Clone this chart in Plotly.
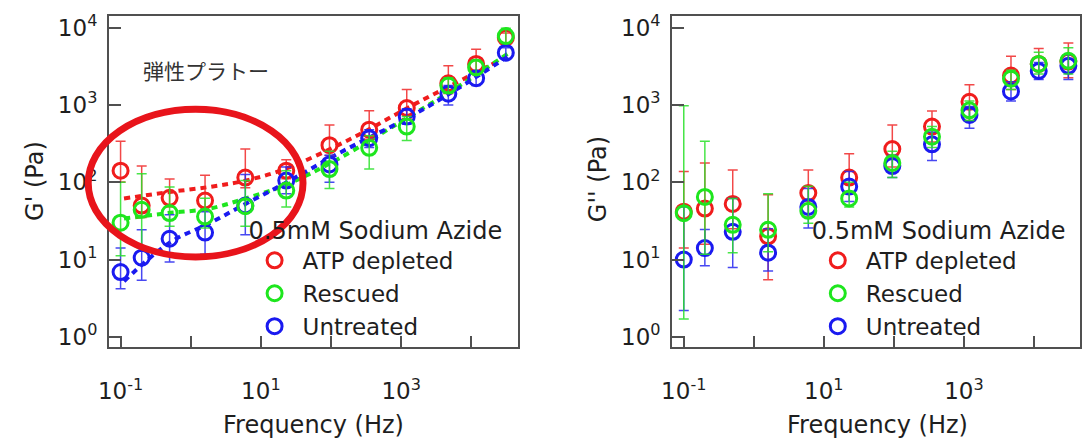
import plotly.graph_objects as go

# ---------------- data ----------------
freq = [0.1, 0.2, 0.5, 1.6, 6.0, 23, 95, 350, 1200, 4700, 11700, 31000]

# Left panel: G' (Pa)
gp_atp = [141, 50, 63, 58, 115, 141, 302, 479, 912, 1905, 3390, 7410]
gp_atp_up = [198, 112, 47, 65, 154, 54, 248, 362, 673, 1301, 1860, 1100]
gp_atp_dn = [40, 15, 15, 15, 30, 30, 80, 120, 250, 500, 900, 1200]

gp_res = [30, 44, 40, 36, 49, 78, 148, 279, 525, 1778, 3055, 7762]
gp_res_up = [70, 85, 47, 26, 56, 63, 103, 119, 183, 461, 747, 2010]
gp_res_dn = [18.8, 30, 13.1, 10.3, 22.1, 30.1, 64.8, 131, 178, 365, 543, 1452]

gp_unt = [6.9, 10.6, 18.6, 22.4, 50, 105, 170, 372, 708, 1396, 2213, 4732]
gp_unt_up = [7.2, 13.7, 19.4, 19.3, 76, 53, 54, 107, 183, 382, 417, 763]
gp_unt_dn = [2.7, 5.2, 9.3, 10.7, 29.1, 34.2, 70, 90, 146, 396, 435, 751]

# Fit curves
fit_atp_f = [0.112, 0.457, 1.86, 6.03, 21.9, 200, 1479, 5623, 28184]
fit_atp_g = [61.7, 74.1, 87.1, 105, 148, 372, 1000, 1862, 3981]
fit_res_f = [0.112, 0.457, 1.86, 6.03, 21.9, 126, 1479, 5623, 38019]
fit_res_g = [33.9, 39.8, 45.7, 61.7, 91.2, 200, 759, 1585, 5012]
fit_unt_f = [0.112, 0.501, 1.86, 6.03, 23.4, 120, 1479, 5623, 38019]
fit_unt_g = [5.25, 16.6, 29.5, 52.5, 100, 229, 741, 1514, 4571]

# Right panel: G'' (Pa)
gpp_atp = [41.7, 45.7, 52.5, 20, 72.4, 115, 269, 525, 1096, 2399, 3388, 3631]
gpp_atp_up = [96, 132, 92, 49, 72, 119, 281, 307, 724, 1867, 1982, 2679]
gpp_atp_dn = [27.6, 29.9, 27.4, 14.5, 36.9, 44.2, 111, 194, 465, 814, 1149, 1392]

gpp_res = [39.8, 64.6, 28.2, 24.3, 42.7, 61.7, 178, 389, 851, 2188, 3388, 3715]
gpp_res_up = [937, 274, 33.5, 46.5, 46.3, 38.3, 73, 136, 271, 630, 1398, 1780]
gpp_res_dn = [38.1, 52.9, 15.9, 11.7, 13.2, 13.8, 63, 107, 220, 603, 876, 1203]

gpp_unt = [10, 14.1, 22.9, 12.3, 47.9, 88.1, 162, 309, 741, 1496, 2754, 3199]
gpp_unt_up = [38, 10.4, 38.8, 12.8, 35.3, 49.9, 62, 138, 214, 499, 794, 1268]
gpp_unt_dn = [7.8, 5.8, 15, 5.2, 22.2, 31.9, 47, 118, 240, 374, 616, 1061]

names = ["ATP depleted", "Rescued", "Untreated"]
legend_title = "0.5mM Sodium Azide"
x_tickvals = [0.1, 1, 10, 100, 1000, 10000]
x_ticktext = ["10<sup>-1</sup>", "", "10<sup>1</sup>", "", "10<sup>3</sup>", ""]
y_tickvals = [1, 10, 100, 1000, 10000]
y_ticktext = ["10<sup>0</sup>", "10<sup>1</sup>", "10<sup>2</sup>", "10<sup>3</sup>", "10<sup>4</sup>"]

# ---------------- style ----------------
W, H = 1083, 439
FONT = "DejaVu Sans, Liberation Sans, sans-serif"
colors = ["#f01c1c", "#1ee61e", "#1a1af0"]
ecolors = ["rgba(240,40,40,0.85)", "rgba(40,225,40,0.85)", "rgba(40,40,240,0.85)"]
TXT = "#1e1e1e"
AX = "#505050"

fig = go.Figure()

# fit lines (left)
for f, g, c in [(fit_atp_f, fit_atp_g, colors[0]), (fit_res_f, fit_res_g, colors[1]),
                (fit_unt_f, fit_unt_g, colors[2])]:
    fig.add_trace(go.Scatter(x=f, y=g, mode="lines", line=dict(color=c, width=4, dash="6px,5px", shape="spline"),
                             showlegend=False, hoverinfo="skip", xaxis="x", yaxis="y"))

def add_series(xa, ya, vals, up, dn, i, legend, show):
    fig.add_trace(go.Scatter(
        x=freq, y=vals, mode="markers", name=names[i], legend=legend, showlegend=show,
        legendrank=i + 1,
        marker=dict(symbol="circle-open", size=15, color=colors[i], line=dict(width=3, color=colors[i])),
        error_y=dict(type="data", symmetric=False, array=up, arrayminus=dn,
                     color=ecolors[i], thickness=1.5, width=5),
        xaxis=xa, yaxis=ya))

left = [(gp_atp, gp_atp_up, gp_atp_dn), (gp_res, gp_res_up, gp_res_dn), (gp_unt, gp_unt_up, gp_unt_dn)]
right = [(gpp_atp, gpp_atp_up, gpp_atp_dn), (gpp_res, gpp_res_up, gpp_res_dn), (gpp_unt, gpp_unt_up, gpp_unt_dn)]
for i in [0, 2, 1]:
    add_series("x", "y", *left[i], i, "legend", True)
for i in [0, 2, 1]:
    add_series("x2", "y2", *right[i], i, "legend2", True)

def xax(domain, anchor):
    return dict(type="log", range=[-1.165, 4.658], domain=domain, anchor=anchor,
                tickvals=x_tickvals, ticktext=x_ticktext, ticks="inside", ticklen=11, tickwidth=1.5,
                tickcolor=AX, showline=True, linecolor=AX, linewidth=2, mirror=True,
                showgrid=False, zeroline=False, tickfont=dict(family=FONT, size=23, color=TXT),
                ticklabelstandoff=23)

def yax(anchor):
    return dict(type="log", range=[-0.127, 4.156], domain=[0.2066, 0.9733], anchor=anchor,
                tickvals=y_tickvals, ticktext=y_ticktext, ticks="inside", ticklen=12, tickwidth=1.5,
                tickcolor=AX, showline=True, linecolor=AX, linewidth=2, mirror=True,
                showgrid=False, zeroline=False, tickfont=dict(family=FONT, size=23, color=TXT),
                ticklabelstandoff=5)

def legend(xpx):
    return dict(x=xpx / W, y=1 - 207 / H, xanchor="left", yanchor="top",
                title=dict(text=legend_title, font=dict(family=FONT, size=24, color=TXT)),
                font=dict(family=FONT, size=23, color=TXT), bgcolor="rgba(0,0,0,0)",
                tracegroupgap=0, itemwidth=46)

def ann(text, xpx, ypx, size=24, angle=0, family=FONT, color=TXT):
    return dict(text=text, x=xpx / W, y=1 - ypx / H, xref="paper", yref="paper", showarrow=False,
                textangle=angle, font=dict(family=family, size=size, color=color),
                xanchor="center", yanchor="middle")

fig.update_layout(
    width=W, height=H, margin=dict(l=0, r=0, t=0, b=0),
    paper_bgcolor="white", plot_bgcolor="white",
    xaxis=xax([99 / W, 511.7 / W], "y"),
    yaxis=yax("x"),
    xaxis2=xax([668 / W, 1080 / W], "y2"),
    yaxis2=yax("x2"),
    legend=legend(238),
    legend2=legend(807),
    annotations=[
        ann("G' (Pa)", 24, 180, angle=-90),
        ann("G'' (Pa)", 593, 178, angle=-90),
        ann("Frequency (Hz)", 306, 428),
        ann("Frequency (Hz)", 875, 428),
        ann("弾性プラトー", 197, 67, size=21, family="Noto Sans CJK JP", color="#333333"),
    ],
    shapes=[dict(type="circle", xref="paper", yref="paper",
                 x0=78 / W, x1=295 / W, y0=1 - 257 / H, y1=1 - 107 / H,
                 line=dict(color="#e8141b", width=7))],
    showlegend=True,
)

fig.write_html("out.html")
